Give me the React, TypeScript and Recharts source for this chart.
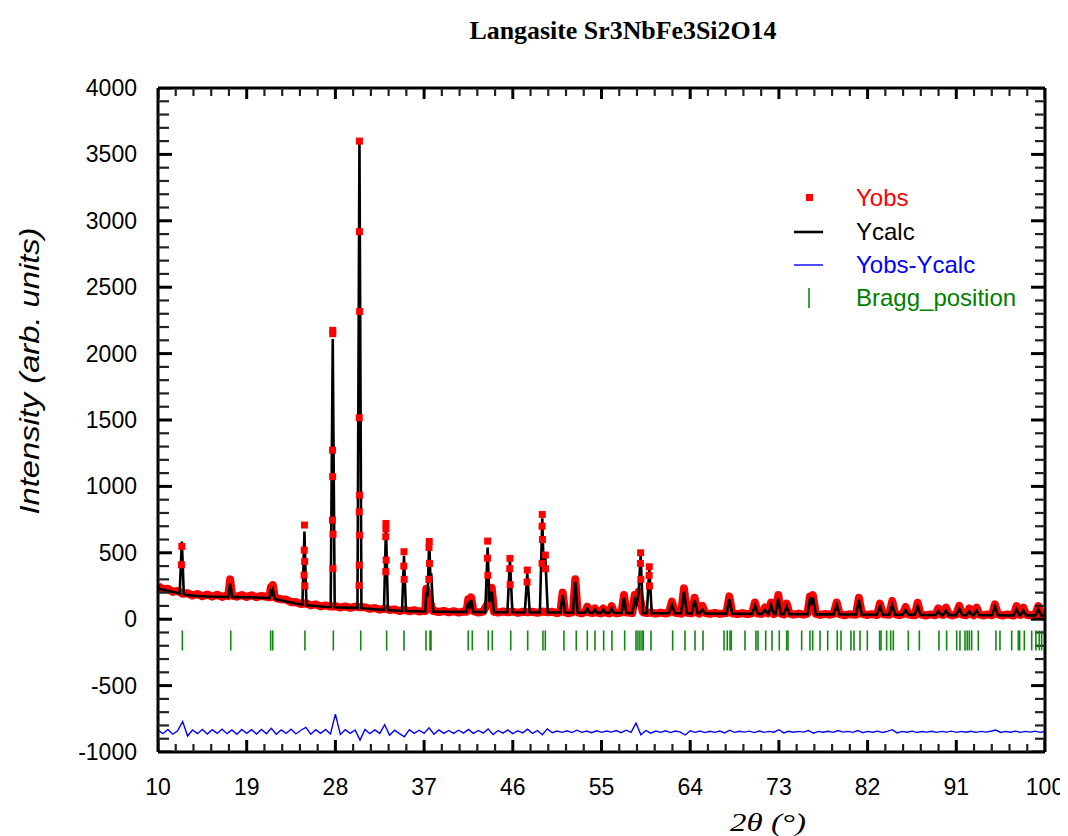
import React from 'react';
import { ComposedChart, Line, Scatter, XAxis, YAxis } from 'recharts';

const W = 1060;
const H = 828;

const calcProfile: number[][] = [
  [10,232],[11,214],[12,197],[12.2,193],[12.42,585],[12.62,186],[13,181],[14,175],[15,171],[16,169],[17,167],
  [17.13,167],[17.32,270],[17.52,166],[18,166],[19,165],[20,163],[21,160],[21.3,158],[21.45,210],[21.55,195],
  [21.65,218],[21.85,154],[22,150],[23,134],[24,118],[24.65,111],[24.86,660],[25.06,107],[26,100],[27,94],
  [27.52,92],[27.73,2110],[27.93,90],[29,87],[30,85],[30.24,84],[30.44,3600],[30.64,83],[31,80],[32,74],
  [32.93,70],[33.13,697],[33.33,69],[34,65],[34.76,62],[34.96,478],[35.16,62],[36,60],[37,58],[37.12,58],
  [37.22,205],[37.36,170],[37.52,605],[37.63,330],[37.72,345],[37.92,57],[39,56],[40,55],[41.3,55],[41.48,130],
  [41.62,95],[41.78,145],[42,54],[43.2,53],[43.45,540],[43.62,130],[43.86,205],[44.1,53],[45.45,52],[45.71,445],
  [45.96,52],[47.22,51],[47.47,345],[47.72,51],[48.75,51],[48.99,760],[49.12,400],[49.3,465],[49.55,50],
  [50.82,50],[51.06,181],[51.3,50],[52.1,49],[52.34,282],[52.58,49],[53.34,49],[53.56,80],[53.78,49],[54.12,48],
  [54.34,72],[54.56,48],[54.96,48],[55.18,72],[55.4,48],[55.8,48],[56.03,81],[56.26,48],[57.04,47],[57.28,162],
  [57.52,47],[58.12,47],[58.37,144],[58.55,110],[58.77,200],[58.97,483],[59.2,47],[59.6,46],[59.85,382],[60.1,46],
  [61.85,45],[62.15,106],[62.45,45],[63.07,45],[63.37,207],[63.67,44],[64.15,44],[64.45,144],[64.75,44],
  [64.93,43],[65.23,70],[65.53,43],[67.67,42],[67.97,150],[68.27,42],[70.27,40],[70.57,104],[70.87,40],
  [71.29,40],[71.59,70],[71.89,39],[71.95,39],[72.2,106],[72.5,39],[72.65,39],[72.94,157],[73.2,38],[73.5,38],
  [73.79,96],[74.08,38],[75.9,37],[76.15,150],[76.3,120],[76.45,162],[76.75,36],[78.56,36],[78.86,106],
  [79.16,36],[80.82,35],[81.12,144],[81.42,35],[82.95,34],[83.25,96],[83.55,34],[84.2,34],[84.5,106],[84.8,33],
  [85.56,33],[85.86,70],[86.16,33],[86.78,33],[87.08,96],[87.38,32],[88.87,32],[89.17,60],[89.47,31],[89.65,31],
  [89.95,65],[90.25,31],[91,31],[91.3,80],[91.6,31],[92.02,30],[92.32,60],[92.62,30],[92.76,30],[93.06,65],
  [93.36,30],[94.62,30],[94.92,96],[95.22,30],[96.82,29],[97.12,75],[97.42,29],[97.5,29],[97.8,65],[98.1,29],
  [99.02,29],[99.32,75],[99.62,29],[100,29],
];

const obsBand: number[][] = [
  [10,248],[10.5,226],[11,230],[11.5,205],[12,214],[12.5,192],[13,196],[13.5,178],[14,190],[14.5,172],[15,186],
  [15.5,170],[16,184],[16.5,168],[17,180],[17.13,175],[17.32,300],[17.52,178],[18,170],[18.5,182],[19,168],
  [19.5,180],[20,166],[20.5,176],[21,168],[21.3,165],[21.45,240],[21.55,215],[21.65,258],[21.85,165],[22,158],
  [22.5,150],[23,148],[23.5,128],[24,130],[24.5,115],[25,120],[25.5,104],[26,112],[26.5,96],[27,104],[27.5,95],
  [28,98],[28.5,88],[29,96],[29.5,86],[30,95],[30.5,90],[31,90],[31.5,78],[32,84],[32.5,72],[33,80],[33.5,70],
  [34,74],[34.5,62],[35,70],[35.5,60],[36,68],[36.5,58],[37,64],[37.12,62],[37.22,230],[37.36,185],[37.9,62],
  [38,62],[38.5,54],[39,62],[39.5,52],[40,60],[40.5,50],[41,58],[41.3,56],[41.48,150],[41.62,110],[41.78,165],
  [42,60],[42.5,50],[43,58],[43.62,140],[43.86,237],[44.1,56],[44.5,50],[45,58],[45.5,52],[46,58],[46.5,48],
  [47,56],[47.5,52],[48,56],[48.5,48],[49,58],[49.6,52],[50,56],[50.5,46],[50.82,54],[51.06,200],[51.3,52],
  [51.6,44],[52.1,54],[52.34,300],[52.58,52],[53,44],[53.34,52],[53.56,94],[53.78,50],[54.12,46],[54.34,81],
  [54.56,50],[54.96,44],[55.18,82],[55.4,50],[55.8,44],[56.03,99],[56.26,50],[56.6,44],[57.04,52],[57.28,182],
  [57.52,50],[58.12,46],[58.37,182],[58.55,130],[58.77,207],[59.2,52],[59.6,46],[60.1,50],[60.5,42],[61,50],
  [61.5,42],[61.85,50],[62.15,132],[62.45,48],[63.07,42],[63.37,232],[63.67,48],[64.15,44],[64.45,162],
  [64.75,48],[64.93,42],[65.23,101],[65.53,46],[66,40],[66.5,48],[67,40],[67.67,46],[67.97,172],[68.27,44],
  [68.8,38],[69.3,46],[69.8,38],[70.27,44],[70.57,126],[70.87,42],[71.29,40],[71.59,88],[71.89,44],[72.2,126],
  [72.5,40],[72.65,44],[72.94,182],[73.2,42],[73.5,36],[73.79,117],[74.08,42],[74.5,34],[75,42],[75.5,34],
  [75.9,42],[76.15,170],[76.3,140],[76.45,182],[76.75,40],[77.2,32],[77.7,40],[78.2,34],[78.56,40],[78.86,126],
  [79.16,38],[79.6,30],[80.2,38],[80.82,34],[81.12,162],[81.42,40],[81.9,32],[82.4,38],[82.95,32],[83.25,117],
  [83.55,38],[84.2,34],[84.5,137],[84.8,38],[85.2,30],[85.56,38],[85.86,92],[86.16,36],[86.78,30],[87.08,124],
  [87.38,36],[87.9,28],[88.4,36],[88.87,30],[89.17,81],[89.47,36],[89.65,32],[89.95,88],[90.25,36],[90.6,28],
  [91,36],[91.3,101],[91.6,34],[92.02,30],[92.32,81],[92.62,36],[92.76,30],[93.06,88],[93.36,34],[93.8,28],
  [94.2,36],[94.62,30],[94.92,112],[95.22,36],[95.7,28],[96.2,36],[96.82,28],[97.12,99],[97.42,34],[97.5,32],
  [97.8,88],[98.1,34],[98.6,28],[99.02,36],[99.32,99],[99.62,30],[100,40],
];

const obsPeakPoints: number[][] = [
  [12.42,548],[12.38,410],
  [24.86,709],[24.84,520],[24.88,435],[24.82,332],[24.9,250],
  [27.73,2175],[27.73,2150],[27.71,1273],[27.72,1073],[27.7,746],[27.76,640],[27.75,382],
  [30.44,3600],[30.44,2918],[30.46,2317],[30.42,1517],[30.46,934],[30.42,809],[30.46,633],[30.42,407],[30.4,254],
  [33.13,721],[33.13,680],[33.11,621],[33.15,445],[33.11,358],
  [34.96,508],[34.94,400],[34.98,300],
  [37.52,585],[37.5,540],[37.55,420],[37.48,300],
  [43.45,588],[43.43,460],[43.47,330],
  [45.71,458],[45.69,380],[45.73,260],
  [47.47,370],[47.45,280],
  [48.99,789],[48.97,700],[49.01,600],[48.97,420],
  [49.3,483],[49.32,380],
  [58.97,500],[58.95,420],[58.99,300],
  [59.85,395],[59.83,330],[59.87,250],
];

const diffStart = 10;
const diffStep = 0.5;
const diffValues: number[] = [
  -836,-862,-830,-866,-840,-770,-880,-834,-862,-830,
  -864,-832,-860,-828,-862,-834,-866,-830,-860,-832,
  -864,-830,-862,-822,-866,-834,-860,-828,-864,-836,
  -815,-866,-832,-860,-830,-864,-715,-868,-832,-860,
  -834,-910,-830,-862,-834,-860,-795,-874,-836,-862,
  -885,-832,-860,-836,-860,-818,-866,-834,-860,-838,
  -860,-836,-858,-830,-860,-838,-858,-826,-868,-838,
  -858,-834,-862,-840,-856,-828,-860,-838,-870,-826,
  -855,-842,-852,-840,-854,-836,-852,-842,-855,-840,
  -852,-842,-850,-838,-854,-836,-852,-782,-870,-838,
  -858,-842,-852,-840,-854,-842,-850,-872,-840,-852,
  -842,-854,-844,-852,-842,-856,-836,-852,-844,-850,
  -843,-854,-842,-852,-845,-851,-832,-856,-844,-851,
  -845,-850,-838,-858,-845,-851,-844,-852,-838,-850,
  -845,-852,-838,-855,-845,-851,-843,-853,-845,-832,
  -856,-845,-851,-843,-852,-846,-850,-844,-852,-845,
  -850,-843,-852,-845,-851,-844,-852,-845,-850,-844,
  -835,-853,-845,-851,-843,-852,-845,-850,-843,-852,
  -846,
];

const braggPositions: number[] = [
  12.47,17.38,21.43,21.64,24.91,27.79,30.57,33.2,34.96,37.19,37.6,37.7,
  41.48,41.89,43.51,43.92,45.79,47.51,49.06,49.3,51.19,52.44,53.56,54.34,55.22,56.06,57.35,58.5,58.7,58.9,
  59.11,59.24,60.02,62.22,63.47,64.49,65.3,67.43,67.76,68.04,68.17,
  69.56,70.67,70.88,71.66,72.3,73.04,73.79,73.92,75.31,76.15,76.43,77.17,77.95,78.92,79.3,80.31,80.62,
  81.23,81.97,83.22,83.36,83.93,84.34,84.61,86.13,87.25,89.24,90.02,91.04,91.37,91.88,92.11,92.32,92.56,
  93.23,95.02,95.43,96.62,97.29,97.43,97.9,98.65,99.08,99.42,99.66,
];
const braggLevel = -160;

const xMajorTicks = [10, 19, 28, 37, 46, 55, 64, 73, 82, 91, 100];
const yMajorTicks = [-1000, -500, 0, 500, 1000, 1500, 2000, 2500, 3000, 3500, 4000];

const title = 'Langasite Sr3NbFe3Si2O14';
const xLabel = '2\u03b8 (\u00b0)';
const yLabel = 'Intensity (arb. units)';
const legendItems = ['Yobs', 'Ycalc', 'Yobs-Ycalc', 'Bragg_position'];

const X_DOMAIN: [number, number] = [10, 100];
const Y_DOMAIN: [number, number] = [-1000, 4000];

const toPts = (a: number[][]) => a.map(([x, y]) => ({ x, y }));
const calcPts = toPts(calcProfile);
const obsBandPts = toPts(obsBand);
const obsPeakPts = toPts(obsPeakPoints);
const diffPts = diffValues.map((v, i) => ({ x: diffStart + i * diffStep, y: v }));
const braggPts = braggPositions.map((x) => ({ x, y: braggLevel }));

const subdivide = (majors: number[]) => {
  const out: number[] = [];
  for (let i = 0; i < majors.length - 1; i++) {
    const a = majors[i];
    const step = (majors[i + 1] - a) / 5;
    for (let k = 0; k < 5; k++) out.push(+(a + k * step).toFixed(4));
  }
  out.push(majors[majors.length - 1]);
  return out;
};
const xTicks = subdivide(xMajorTicks);
const yTicks = subdivide(yMajorTicks);
const isMajorX = (v: number) => xMajorTicks.some((m) => Math.abs(m - v) < 1e-6);
const isMajorY = (v: number) => yMajorTicks.some((m) => Math.abs(m - v) < 1e-6);

// tick-mark anchors on the four frame edges
const bottomTickPts = xTicks.map((v) => ({ x: v, y: Y_DOMAIN[0], major: isMajorX(v) }));
const topTickPts = xTicks.map((v) => ({ x: v, y: Y_DOMAIN[1], major: isMajorX(v) }));
const leftTickPts = yTicks.map((v) => ({ x: X_DOMAIN[0], y: v, major: isMajorY(v) }));
const rightTickPts = yTicks.map((v) => ({ x: X_DOMAIN[1], y: v, major: isMajorY(v) }));

const SANS = '"Liberation Sans", Arial, sans-serif';
const SERIF = '"Liberation Serif", "Times New Roman", serif';

const BottomLabel = (p: any) => {
  const v = p.payload.value;
  if (!isMajorX(v)) return <g />;
  return (
    <text x={p.x} y={p.y + 43} textAnchor="middle" fontSize={23} fontFamily={SANS} fill="#000">
      {String(Math.round(v))}
    </text>
  );
};
const LeftLabel = (p: any) => {
  const v = p.payload.value;
  if (!isMajorY(v)) return <g />;
  return (
    <text x={p.x - 21} y={p.y + 8} textAnchor="end" fontSize={23} fontFamily={SANS} fill="#000">
      {String(v)}
    </text>
  );
};
const NoLabel = () => <g />;

const isMaj = (p: any) => !!(p.payload ? p.payload.major : p.major);
const mkMark = (dx: number, dy: number, maj: number, min: number) => (p: any) => {
  const m = isMaj(p);
  const len = m ? maj : min;
  return (
    <path d={`M${p.cx},${p.cy}L${p.cx + dx * len},${p.cy + dy * len}`} stroke={m ? '#000' : '#222'}
      strokeWidth={m ? 3 : 2.2} fill="none" />
  );
};
const BottomMark = mkMark(0, -1, 12, 8);
const TopMark = mkMark(0, 1, 11, 8);
const LeftMark = mkMark(1, 0, 14, 11);
const RightMark = mkMark(-1, 0, 14, 10);

const RedSquare = (p: any) => <rect x={p.cx - 3.5} y={p.cy - 3.5} width={7} height={7} fill="#ff0000" />;
const BraggTick = (p: any) => (
  <line x1={p.cx} x2={p.cx} y1={p.cy - 10} y2={p.cy + 10} stroke="#118811" strokeWidth={1.6} />
);

const axisLine = { stroke: '#000', strokeWidth: 3 };
const common = { xAxisId: 'bottom', yAxisId: 'left', isAnimationActive: false } as const;

export default function App() {
  return (
    <div style={{ position: 'relative', width: W, height: H, background: '#fff' }}>
      <ComposedChart width={W} height={H} margin={{ top: 79, right: 22, bottom: 24, left: 0 }}>
        <XAxis xAxisId="bottom" dataKey="x" type="number" domain={X_DOMAIN} ticks={xTicks} interval={0}
          allowDataOverflow height={60} tickLine={false} tickSize={0} tickMargin={0} axisLine={axisLine} tick={BottomLabel} />
        <XAxis xAxisId="top" orientation="top" dataKey="x" type="number" domain={X_DOMAIN} ticks={xMajorTicks} interval={0}
          allowDataOverflow height={1} tickLine={false} tickSize={0} tickMargin={0} axisLine={axisLine} tick={NoLabel} />
        <YAxis yAxisId="left" dataKey="y" type="number" domain={Y_DOMAIN} ticks={yTicks} interval={0}
          allowDataOverflow width={150} tickLine={false} tickSize={0} tickMargin={0} axisLine={axisLine} tick={LeftLabel} />
        <YAxis yAxisId="right" orientation="right" dataKey="y" type="number" domain={Y_DOMAIN} ticks={yMajorTicks} interval={0}
          allowDataOverflow width={1} tickLine={false} tickSize={0} tickMargin={0} axisLine={axisLine} tick={NoLabel} />

        <Scatter data={bottomTickPts} {...common} dataKey="y" shape={BottomMark} />
        <Scatter data={topTickPts} {...common} dataKey="y" shape={TopMark} />
        <Scatter data={leftTickPts} {...common} dataKey="y" shape={LeftMark} />
        <Scatter data={rightTickPts} {...common} dataKey="y" shape={RightMark} />

        <Line data={obsBandPts} {...common} dataKey="y" type="linear" stroke="#ff0000"
          strokeWidth={8} strokeLinejoin="round" dot={false} />
        <Line data={calcPts} {...common} dataKey="y" type="linear" stroke="#000" strokeWidth={2.6} dot={false} />
        <Scatter data={obsPeakPts} {...common} dataKey="y" shape={RedSquare} />
        <Line data={diffPts} {...common} dataKey="y" type="linear" stroke="#0000ff" strokeWidth={1.4} dot={false} />
        <Scatter data={braggPts} {...common} dataKey="y" shape={BraggTick} />
      </ComposedChart>

      <svg width={W} height={H} style={{ position: 'absolute', left: 0, top: 0, pointerEvents: 'none' }}>
        <text x={615} y={31} textAnchor="middle" fontSize={25} fontWeight="bold" fontFamily={SERIF}
          textLength={307} lengthAdjust="spacingAndGlyphs" fill="#000">{title}</text>
        <text x={760} y={823} textAnchor="middle" fontSize={26} fontStyle="italic" fontFamily={SERIF}
          textLength={76} lengthAdjust="spacingAndGlyphs" fill="#000">{xLabel}</text>
        <text transform="translate(31,363) rotate(-90)" x={0} y={0} textAnchor="middle" fontSize={27} fontStyle="italic"
          fontFamily={SANS} textLength={287} lengthAdjust="spacingAndGlyphs" fill="#000">{yLabel}</text>

        <rect x={798} y={186} width={7} height={7} fill="#ff0000" />
        <text x={848} y={198} fontSize={24} fontFamily={SANS} fill="#ff0000">{legendItems[0]}</text>
        <line x1={786} x2={815} y1={224} y2={224} stroke="#000" strokeWidth={2.6} />
        <text x={848} y={232} fontSize={24} fontFamily={SANS} fill="#000">{legendItems[1]}</text>
        <line x1={786} x2={815} y1={257} y2={257} stroke="#0000ff" strokeWidth={1.4} />
        <text x={848} y={265} fontSize={24} fontFamily={SANS} fill="#0000ff">{legendItems[2]}</text>
        <line x1={801} x2={801} y1={280} y2={300} stroke="#118811" strokeWidth={1.6} />
        <text x={848} y={298} fontSize={24} fontFamily={SANS} fill="#008000">{legendItems[3]}</text>
      </svg>
    </div>
  );
}
